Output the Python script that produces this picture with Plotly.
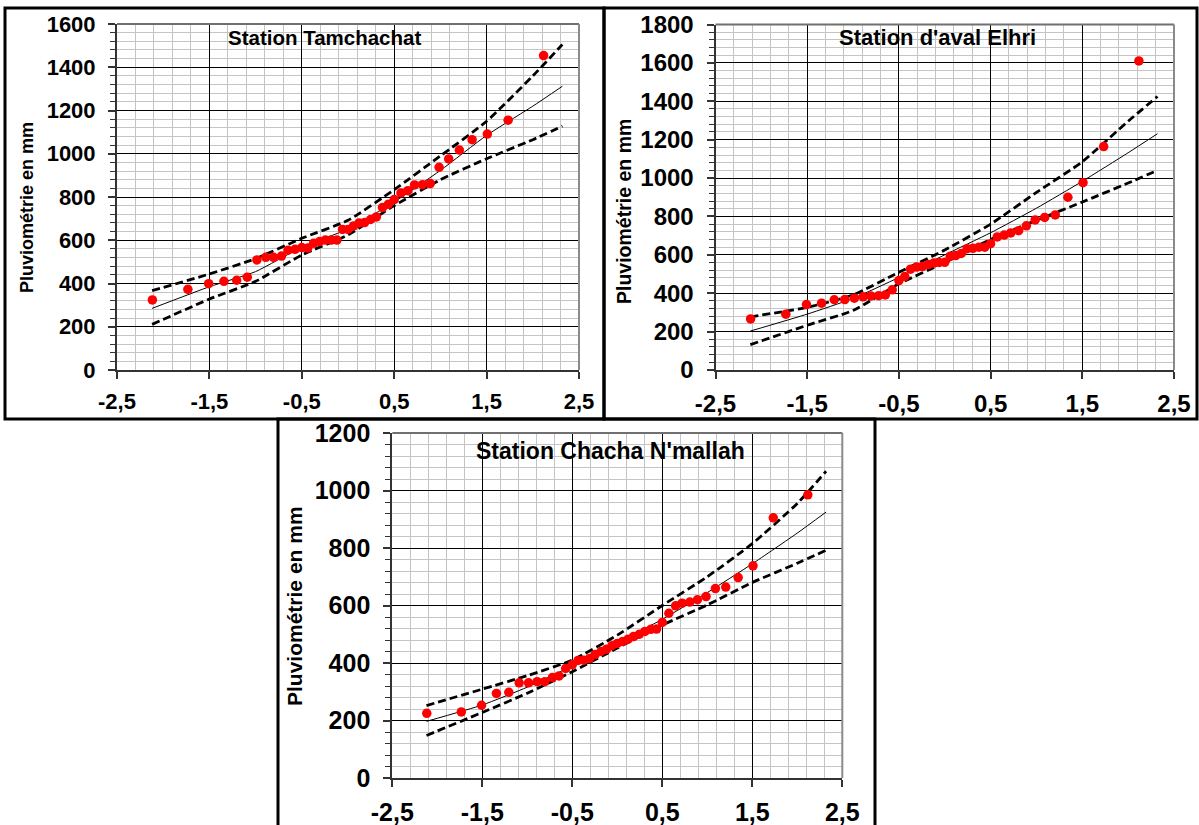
import plotly.graph_objects as go

W, H = 1199, 825

# ---------------- data ----------------
quantiles = [-2.117, -1.733, -1.508, -1.343, -1.205, -1.09, -0.986, -0.89, -0.806, -0.72,
             -0.648, -0.573, -0.50, -0.436, -0.373, -0.307, -0.245, -0.18, -0.12, -0.06,
             0.0, 0.06, 0.12, 0.18, 0.245, 0.307, 0.373, 0.436, 0.50, 0.573,
             0.648, 0.72, 0.806, 0.89, 0.986, 1.09, 1.205, 1.343, 1.508, 1.733, 2.117]

tamchachat_obs = [324, 373, 399, 410, 415, 429, 509, 521, 521, 527, 554, 558, 566, 564, 586,
                  594, 601, 601, 601, 650, 650, 666, 680, 682, 696, 708, 751, 766, 788, 819,
                  829, 856, 857, 862, 937, 976, 1017, 1065, 1091, 1155, 1454]
elhri_obs = [266, 291, 341, 348, 366, 367, 374, 381, 386, 387, 391, 418, 466, 487, 525,
             536, 539, 549, 557, 560, 561, 593, 596, 607, 632, 634, 640, 640, 658, 693,
             703, 714, 726, 751, 782, 795, 808, 900, 976, 1164, 1610]
chacha_obs = [225, 230, 253, 294, 298, 331, 331, 335, 335, 350, 355, 381, 394, 409, 410,
              416, 430, 440, 448, 460, 468, 475, 483, 492, 500, 510, 517, 518, 541, 573,
              599, 608, 612, 620, 631, 659, 664, 697, 738, 905, 985]

curve_x = [-2.12, -1.5, -1.0, -0.5, 0.0, 0.5, 1.0, 1.5, 2.0, 2.32]

tamchachat_fit = [285, 385, 455, 568, 652, 777, 923, 1085, 1220, 1312]
tamchachat_up = [367, 444, 515, 609, 692, 834, 990, 1150, 1360, 1505]
tamchachat_low = [211, 328, 410, 532, 625, 760, 880, 977, 1065, 1128]

elhri_fit = [203, 291, 373, 482, 600, 715, 843, 983, 1132, 1231]
elhri_up = [277, 326, 391, 509, 625, 760, 925, 1085, 1296, 1425]
elhri_low = [132, 233, 310, 449, 560, 680, 780, 875, 974, 1040]

chacha_fit = [197, 254, 316, 390, 470, 552, 645, 745, 852, 925]
chacha_up = [252, 309, 356, 410, 497, 600, 700, 815, 955, 1067]
chacha_low = [148, 228, 295, 370, 452, 532, 602, 680, 747, 792]

x_ticks = [-2.5, -1.5, -0.5, 0.5, 1.5, 2.5]
x_ticktext = ["-2,5", "-1,5", "-0,5", "0,5", "1,5", "2,5"]

titles = ["Station Tamchachat", "Station d'aval Elhri", "Station Chacha N'mallah"]
y_title = "Pluviométrie en mm"
y_max = [1600, 1800, 1200]

# ---------------- layout helpers ----------------
def px_x(v):
    return v / W

def px_y(v):
    return 1 - v / H

FONT = "Liberation Sans, Arial, sans-serif"

# plot areas in pixels: (left, right, top, bottom)
areas = [(117, 579, 24, 370), (715.5, 1174, 24.5, 370), (392.3, 842.3, 433, 778)]
tick_sizes = [22, 24, 25]
title_pos = [(325, 38, 20.5), (937, 38, 22), (610, 451, 23)]
ytitle_pos = [(27, 208, 18), (624, 212, 19.5), (294, 606, 21)]

panels = [
    (tamchachat_obs, tamchachat_fit, tamchachat_up, tamchachat_low),
    (elhri_obs, elhri_fit, elhri_up, elhri_low),
    (chacha_obs, chacha_fit, chacha_up, chacha_low),
]

fig = go.Figure()
layout = dict(width=W, height=H, margin=dict(l=0, r=0, t=0, b=0, pad=0, autoexpand=False),
              autosize=False, paper_bgcolor="white", plot_bgcolor="white", showlegend=False,
              font=dict(family=FONT, color="black"))
shapes = []
annotations = []

for i, (obs, fit, up, low) in enumerate(panels):
    n = "" if i == 0 else str(i + 1)
    xa, ya = "x" + n, "y" + n
    for band in (up, low):
        fig.add_trace(go.Scatter(x=curve_x, y=band, mode="lines", xaxis=xa, yaxis=ya,
                                 line=dict(color="black", width=2.8, dash="8px,4px",
                                           shape="spline", smoothing=0.5)))
    fig.add_trace(go.Scatter(x=curve_x, y=fit, mode="lines", xaxis=xa, yaxis=ya,
                             line=dict(color="black", width=1, shape="spline", smoothing=0.5)))
    fig.add_trace(go.Scatter(x=quantiles, y=obs, mode="markers", xaxis=xa, yaxis=ya,
                             marker=dict(color="#ff0000", size=9.5, line=dict(width=0))))

    l, r, t, b = areas[i]
    fs = tick_sizes[i]
    layout["xaxis" + n] = dict(
        domain=[px_x(l), px_x(r)], anchor=ya, range=[-2.5, 2.5], automargin=False,
        tickmode="array", tickvals=x_ticks, ticktext=x_ticktext,
        ticks="outside", ticklen=7, tickwidth=1.5, tickcolor="#333",
        showline=True, linecolor="#333", linewidth=2,
        showgrid=True, gridcolor="black", gridwidth=1, zeroline=False,
        minor=dict(tickmode="linear", tick0=-2.5, dtick=0.2, showgrid=True,
                   gridcolor="#c4c4c4", gridwidth=1.3, ticks=""),
        tickfont=dict(family=FONT, size=fs, color="black", weight="bold"),
        ticklabelstandoff=4,
    )
    layout["yaxis" + n] = dict(
        domain=[px_y(b), px_y(t)], anchor=xa, range=[0, y_max[i]], automargin=False,
        tickmode="linear", tick0=0, dtick=200, tickformat="d",
        ticks="outside", ticklen=7, tickwidth=1.5, tickcolor="#333",
        showline=True, linecolor="#333", linewidth=2,
        showgrid=True, gridcolor="black", gridwidth=1, zeroline=False,
        minor=dict(tickmode="linear", tick0=0, dtick=40, showgrid=True,
                   gridcolor="#c4c4c4", gridwidth=1.3, ticks="outside", ticklen=5,
                   tickcolor="#333", tickwidth=1.3),
        tickfont=dict(family=FONT, size=fs, color="black", weight="bold"),
        ticklabelstandoff=8,
    )
    shapes.append(dict(type="line", xref="paper", yref="paper", x0=px_x(l), x1=px_x(r),
                       y0=px_y(t), y1=px_y(t), line=dict(color="#707070", width=2)))
    shapes.append(dict(type="line", xref="paper", yref="paper", x0=px_x(r), x1=px_x(r),
                       y0=px_y(t), y1=px_y(b), line=dict(color="#8a8a8a", width=2)))

    tx, ty, ts = title_pos[i]
    annotations.append(dict(text=titles[i], xref="paper", yref="paper", x=px_x(tx), y=px_y(ty),
                            xanchor="center", yanchor="middle", showarrow=False,
                            font=dict(family=FONT, size=ts, color="black", weight="bold")))
    yx, yy, ys = ytitle_pos[i]
    annotations.append(dict(text=y_title, xref="paper", yref="paper", x=px_x(yx), y=px_y(yy),
                            xanchor="center", yanchor="middle", showarrow=False, textangle=-90,
                            font=dict(family=FONT, size=ys, color="black", weight="bold")))

frames = [(5, 8, 604, 419), (604, 8, 1197, 419), (278, 419, 875, 840)]
for (x0, y0, x1, y1) in frames:
    shapes.append(dict(type="rect", xref="paper", yref="paper",
                       x0=px_x(x0), x1=px_x(x1), y0=px_y(y0), y1=px_y(y1),
                       line=dict(color="black", width=3)))

layout["shapes"] = shapes
layout["annotations"] = annotations
fig.update_layout(**layout)

fig.write_html("out.html", config={"responsive": False, "displayModeBar": False},
               post_script="document.body.style.margin='0px';document.body.style.overflow='hidden';")
